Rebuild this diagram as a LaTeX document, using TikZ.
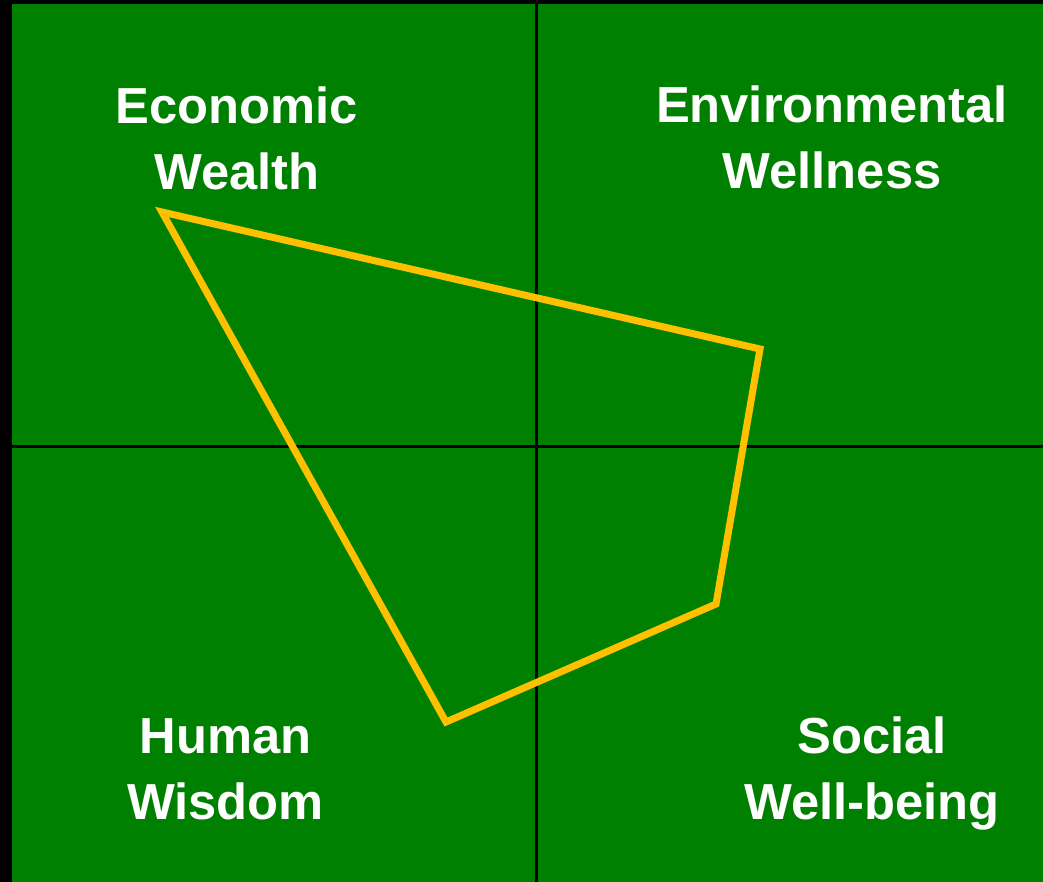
\documentclass[tikz,border=0pt]{standalone}
\usepackage{fontspec}
\setmainfont{Liberation Sans}
\definecolor{quadgreen}{RGB}{0,128,0}
\definecolor{polyyellow}{RGB}{255,192,0}

\begin{document}
\begin{tikzpicture}[x=0.75pt,y=0.75pt,yscale=-1,xscale=1,
	label/.style={anchor=center,inner sep=0pt,text=white,align=center,font=\fontsize{38}{49.5}\selectfont\bfseries},
	axis/.style={draw=black,line width=2.25pt},
	profile/.style={draw=polyyellow,line width=5.25pt,line join=miter}]
	
	%Shape: Rectangle [background]
	\fill[black] (0,0) rectangle (1043,882);
	\fill[quadgreen] (12,4) rectangle (1043,882);
	\useasboundingbox (0,0) rectangle (1043,882);
	
	%Straight Lines [quadrant axes]
	\draw[axis] (536,4) -- (536,882);
	\draw[axis] (12,446) -- (1043,446);
	
	%Shape: Polygon [profile]
	\coordinate (wealth) at (162,212);
	\coordinate (wellness) at (760,349);
	\coordinate (wellbeing) at (716,604);
	\coordinate (wisdom) at (446,722);
	\draw[profile] (wealth) -- (wellness) -- (wellbeing) -- (wisdom) -- cycle;
	
	% Text Node
	\node[label] (economic) at (237,138.5) {Economic\\Wealth};
	% Text Node
	\node[label] (environmental) at (832,137.5) {Environmental\\Wellness};
	% Text Node
	\node[label] (human) at (225.5,769) {Human\\Wisdom};
	% Text Node
	\node[label] (social) at (872,774) {Social\\Well-being};
	
\end{tikzpicture}
\end{document}
